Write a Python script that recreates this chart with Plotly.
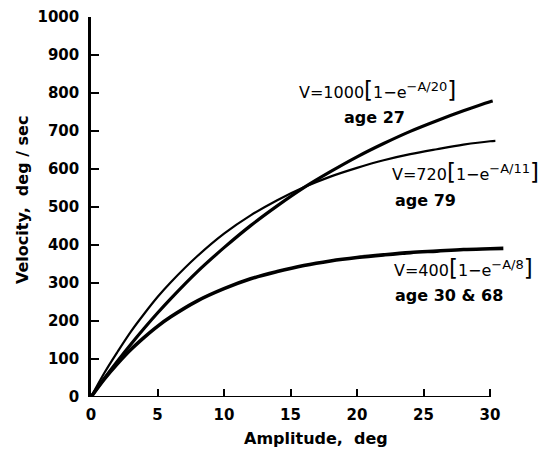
import plotly.graph_objects as go

# V = 1000[1-e^-A/20], age 27
amp1 = [0, 1, 2, 3, 4, 5, 6, 8, 10, 12, 14, 16, 18, 20, 22, 24, 26, 28, 30, 30.2]
v_age27 = [0, 49, 95, 139, 181, 221, 259, 330, 393, 451, 503, 551, 593, 632, 667, 699, 727, 753, 777, 779]
# V = 720[1-e^-A/11], age 79
amp2 = [0, 1, 2, 3, 4, 5, 6, 8, 10, 12, 14, 16, 18, 20, 22, 24, 26, 28, 30, 30.4]
v_age79 = [0, 63, 119, 172, 219, 263, 302, 371, 430, 478, 518, 552, 580, 603, 623, 639, 652, 664, 673, 674]
# V = 400[1-e^-A/8], age 30 & 68
amp3 = [0, 1, 2, 3, 4, 5, 6, 8, 10, 12, 14, 16, 18, 20, 22, 24, 26, 28, 30, 31]
v_age30_68 = [0, 47, 88, 125, 157, 186, 211, 253, 285, 311, 330, 346, 358, 367, 374, 380, 384, 388, 390, 391]

x_ticks = [0, 5, 10, 15, 20, 25, 30]
y_ticks = [0, 100, 200, 300, 400, 500, 600, 700, 800, 900, 1000]

FONT = "DejaVu Sans"
OFF = 8  # page body margin
W, H = 547 - OFF, 453 - OFF
ML, MT = 91 - OFF, 17 - OFF
MB = H - (397 - OFF)
MR = W - (510 - OFF)
PW, PH = W - ML - MR, H - MT - MB


def px(xp):
    return (xp - OFF - ML) / PW


def py(yp):
    return (H - MB - (yp - OFF)) / PH


fig = go.Figure()
fig.add_trace(go.Scatter(x=amp1, y=v_age27, mode="lines",
                         line=dict(color="black", width=3.2, shape="spline"), showlegend=False))
fig.add_trace(go.Scatter(x=amp2, y=v_age79, mode="lines",
                         line=dict(color="black", width=2.2, shape="spline"), showlegend=False))
fig.add_trace(go.Scatter(x=amp3, y=v_age30_68, mode="lines",
                         line=dict(color="black", width=3.6, shape="spline"), showlegend=False))

# x axis line ends at 30
fig.add_shape(type="line", xref="x", yref="y", x0=0, x1=30, y0=0, y1=0,
              line=dict(color="black", width=2.2), layer="above")

fig.update_layout(
    width=W, height=H,
    margin=dict(l=ML, r=MR, t=MT, b=MB),
    plot_bgcolor="white", paper_bgcolor="white",
    font=dict(family=FONT, color="black"),
    xaxis=dict(range=[0, 31.5], tickvals=x_ticks, ticks="inside", ticklen=8, tickwidth=2,
               tickcolor="black", showline=False, showgrid=False, zeroline=False, automargin=False,
               tickfont=dict(family=FONT, size=15, weight="bold"), ticklabelstandoff=7),
    yaxis=dict(range=[0, 1000], tickvals=y_ticks, ticks="inside", ticklen=8, tickwidth=2,
               tickcolor="black", showline=True, linecolor="black", linewidth=2.5,
               showgrid=False, zeroline=False, automargin=False,
               tickfont=dict(family=FONT, size=15, weight="bold"), ticklabelstandoff=6),
)

big = "<span style='font-size:23px'>"
sup_open = "<sup><span style='font-size:13px'>"
sup_close = "</span></sup>"


def formula(coef, tau):
    return ("V=" + coef + big + "[</span>1−e" + sup_open + "−A/" + tau + sup_close
            + big + "]</span>")


annos = [
    dict(x=297, y=90, text=formula("1000", "20"), bold=False),
    dict(x=342, y=117, text="age 27", bold=True),
    dict(x=390, y=172, text=formula("720", "11"), bold=False),
    dict(x=393, y=200, text="age 79", bold=True),
    dict(x=392, y=268, text=formula("400", "8"), bold=False),
    dict(x=393, y=295, text="age 30 &amp; 68", bold=True),
]
for a in annos:
    fig.add_annotation(x=px(a["x"]), y=py(a["y"]), xref="paper", yref="paper",
                       xanchor="left", yanchor="middle", showarrow=False, text=a["text"],
                       font=dict(family=FONT, size=16, color="black",
                                 weight="bold" if a["bold"] else "normal"))

# axis titles
fig.add_annotation(x=px(316), y=py(439), xref="paper", yref="paper", showarrow=False,
                   text="Amplitude,  deg", font=dict(family=FONT, size=16, weight="bold"),
                   xanchor="center", yanchor="middle")
fig.add_annotation(x=px(22), y=py(200), xref="paper", yref="paper", showarrow=False,
                   text="Velocity,  deg / sec", textangle=-90,
                   font=dict(family=FONT, size=16, weight="bold"),
                   xanchor="center", yanchor="middle")

fig.write_html("out.html")
